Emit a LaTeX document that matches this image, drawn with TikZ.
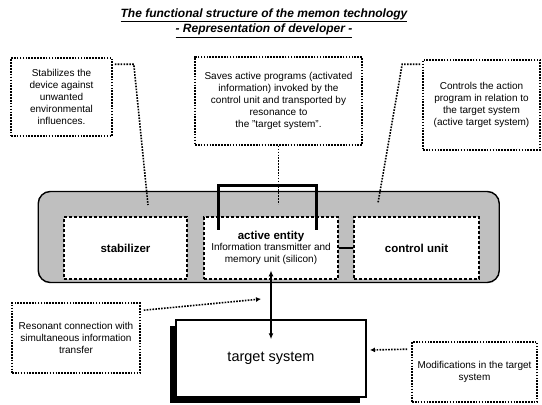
\documentclass[tikz,border=0pt]{standalone}
\usepackage{fontspec}
\setmainfont{Liberation Sans}
\usepackage{tikz}
\usetikzlibrary{arrows.meta}
\usetikzlibrary{calc}
\usetikzlibrary{shadows}
\usetikzlibrary{positioning}

\tikzset{
note/.style={draw, line width=1.6pt, dash pattern=on 1.6pt off 1.3pt, align=center,
  inner sep=1pt, font=\fontsize{10}{12}\selectfont},
part/.style={draw, fill=white, line width=2.8pt, dash pattern=on 2.8pt off 2.2pt, align=center,
  inner sep=1pt},
link/.style={line width=1.6pt, dash pattern=on 1.6pt off 1.3pt},
bond/.style={line width=2.6pt},
tip/.style={-{Latex[length=5pt,width=5pt]}}
}

\begin{document}
\begin{tikzpicture}[x=1pt,y=-1pt]
\useasboundingbox (0,0) rectangle (542,405);
\node[align=center, font=\fontsize{12}{15.5}\selectfont\bfseries\itshape] (title) at (264,23)
{\underline{The functional structure of the memon technology}\\
\underline{- Representation of developer -}};
\node[note, minimum width=101pt, minimum height=78pt] (stabtxt) at (61.5,97)
{Stabilizes the\\device against\\unwanted\\environmental\\influences.};
\node[note, minimum width=167pt, minimum height=88pt] (savetxt) at (278.5,101)
{Saves active programs (activated\\information) invoked by the\\control unit and transported by\\resonance to\\the "target system".};
\node[note, minimum width=117pt, minimum height=90pt] (ctrltxt) at (481.5,105)
{Controls the action\\program in relation to\\the target system\\(active target system)};
\node[draw, fill=gray!50, line width=1.4pt, rounded corners=12pt,
minimum width=461pt, minimum height=91pt] (panel) at (268.75,237) {};
\node[part, minimum width=123pt, minimum height=62pt, font=\fontsize{11.5}{14}\selectfont\bfseries] (stab) at (125.5,248) {stabilizer};
\node[part, minimum width=134pt, minimum height=62pt] (ae) at (271,248)
{{\fontsize{11.5}{14}\selectfont\bfseries active entity}\\[-1pt]
{\fontsize{10}{12}\selectfont Information transmitter and}\\
{\fontsize{10}{12}\selectfont memory unit (silicon)}};
\node[part, minimum width=125pt, minimum height=62pt, font=\fontsize{11.5}{14}\selectfont\bfseries] (cu) at (416.5,248) {control unit};
\node[draw, fill=white, line width=1.5pt, minimum width=190pt, minimum height=77pt,
font=\fontsize{14.5}{17}\selectfont,
drop shadow={shadow xshift=-6pt, shadow yshift=-6pt, fill=black, opacity=1}] (ts) at (271,358.5) {target system};
\node[note, minimum width=128pt, minimum height=70pt] (resnote) at (76,338)
{Resonant connection with\\simultaneous information\\transfer};
\node[note, minimum width=125pt, minimum height=60pt] (modnote) at (474.5,372)
{Modifications in the target\\system};
\coordinate (stabend) at (148,205);
\coordinate (saveend) at ($(savetxt.south)+(0,58)$);
\coordinate (ctrlend) at (378,203);
\coordinate (resend) at (261,299);
\coordinate (modend) at (370,350);
\draw[link] ($(stabtxt.north east)+(2,7)$) -- ++(19,0) -- (stabend);
\draw[link] (savetxt.south) -- (saveend);
\draw[link] ($(ctrltxt.north west)+(-2,5)$) -- ++(-18,0) -- (ctrlend);
\draw[bond] ($(ae.north west)+(16,14)$) -- ++(0,-44) -| ($(ae.north east)+(-23,14)$);
\draw[bond] (ae.east) -- (cu.west);
\draw[line width=1.2pt, {Latex[length=6pt,width=5pt]}-{Latex[length=6pt,width=5pt]}]
([yshift=10pt]ae.south) -- ([yshift=-20pt]ts.north);
\draw[link, tip] ($(resnote.north east)+(3,8)$) -- (resend);
\draw[link, tip] ($(modnote.north west)+(-4,8)$) -- (modend);
\end{tikzpicture}
\end{document}
